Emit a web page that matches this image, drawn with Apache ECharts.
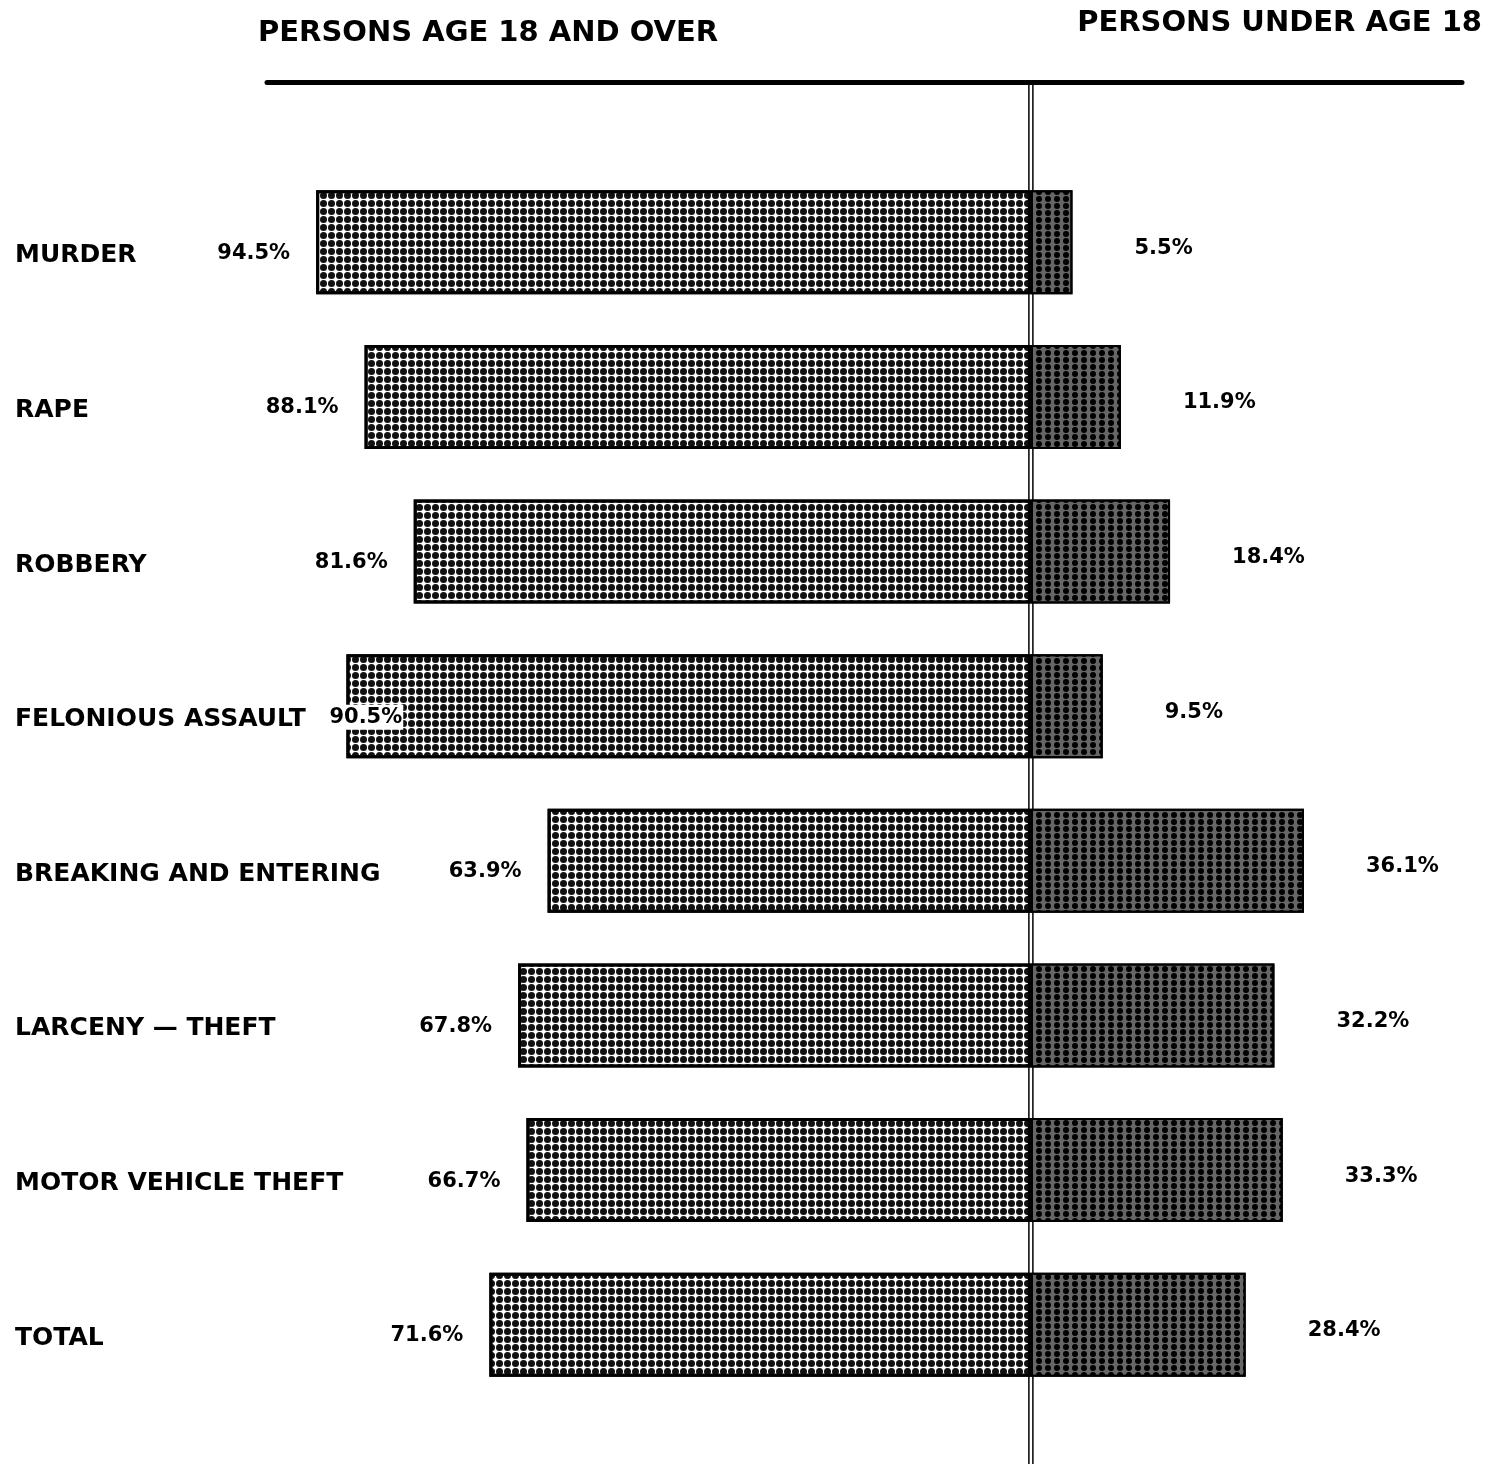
<!DOCTYPE html>
<html>
<head>
<meta charset="utf-8">
<script src="https://cdn.jsdelivr.net/npm/echarts@6/dist/echarts.min.js"></script>
<style>html,body{margin:0;padding:0;background:#fff}#c{width:1486px;height:1464px}</style>
</head>
<body>
<div id="c"></div>
<script>
const categories = ['MURDER', 'RAPE', 'ROBBERY', 'FELONIOUS ASSAULT', 'BREAKING AND ENTERING', 'LARCENY — THEFT', 'MOTOR VEHICLE THEFT', 'TOTAL'];
const adultPct = [94.5, 88.1, 81.6, 90.5, 63.9, 67.8, 66.7, 71.6];
const juvenilePct = [5.5, 11.9, 18.4, 9.5, 36.1, 32.2, 33.3, 28.4];
const headings = ['PERSONS AGE 18 AND OVER', 'PERSONS UNDER AGE 18'];

const FONT = 'DejaVu Sans';
const chart = echarts.init(document.getElementById('c'), null, {renderer: 'canvas'});

// the "FELONIOUS ASSAULT" value label sits on the bar edge in the original
const adultData = adultPct.map((v, i) => categories[i] === 'FELONIOUS ASSAULT'
  ? {value: -v, label: {position: 'insideLeft', distance: -18, backgroundColor: '#fff', padding: [2, 1, 2, 1]}}
  : -v);

const option = {
  backgroundColor: '#fff',
  animation: false,
  title: [
    {text: headings[0], left: 258, top: 19, padding: 0,
     textStyle: {fontFamily: FONT, fontSize: 29, fontWeight: 'bold', color: '#000'}},
    {text: headings[1], right: 4, top: 9, padding: 0,
     textStyle: {fontFamily: FONT, fontSize: 29, fontWeight: 'bold', color: '#000'}}
  ],
  grid: {left: 267, right: 24, top: 165, bottom: 62, containLabel: false},
  xAxis: {
    type: 'value', min: -101, max: 57, position: 'top', offset: 83,
    axisLine: {show: true, onZero: false, lineStyle: {color: '#000', width: 5, cap: 'round'}},
    axisTick: {show: false}, axisLabel: {show: false}, splitLine: {show: false}
  },
  yAxis: {
    type: 'category', data: categories, inverse: true,
    axisLine: {show: false, onZero: false}, axisTick: {show: false},
    axisLabel: {align: 'left', margin: 252, verticalAlign: 'top', lineHeight: 27,
      fontFamily: FONT, fontSize: 25, fontWeight: 'bold', color: '#000'}
  },
  series: [
    {
      type: 'bar', name: 'adult', stack: 'all', barWidth: 104, z: 3,
      data: adultData,
      itemStyle: {
        color: '#fff', borderColor: '#000', borderWidth: 3,
        decal: {symbol: 'circle', symbolSize: 1, dashArrayX: [7, 1], dashArrayY: [7, 1], color: '#111'}
      },
      label: {show: true, position: 'left', distance: 26, offset: [0, 11],
        formatter: p => Math.abs(p.value).toFixed(1) + '%',
        fontFamily: FONT, fontSize: 21, fontWeight: 'bold', color: '#000'}
    },
    {
      type: 'bar', name: 'juvenile', stack: 'all', barWidth: 104, z: 3,
      data: juvenilePct,
      itemStyle: {
        color: '#666', borderColor: '#000', borderWidth: 2,
        decal: {symbol: 'circle', symbolSize: 1, symbolKeepAspect: false, dashArrayX: [8, 1], dashArrayY: [6, 1], color: '#000'}
      },
      label: {show: true, position: 'right', distance: 62, offset: [0, 6],
        formatter: p => p.value.toFixed(1) + '%',
        fontFamily: FONT, fontSize: 21, fontWeight: 'bold', color: '#000'}
    }
  ]
};
chart.setOption(option);

const cx = chart.convertToPixel({xAxisIndex: 0}, 0);
const topY = 82;
chart.setOption({
  graphic: [
    {type: 'line', z: 1, shape: {x1: cx - 2, y1: topY, x2: cx - 2, y2: 1464}, style: {stroke: '#000', lineWidth: 1.5}},
    {type: 'line', z: 1, shape: {x1: cx + 2, y1: topY, x2: cx + 2, y2: 1464}, style: {stroke: '#000', lineWidth: 1.5}}
  ]
});
</script>
</body>
</html>
